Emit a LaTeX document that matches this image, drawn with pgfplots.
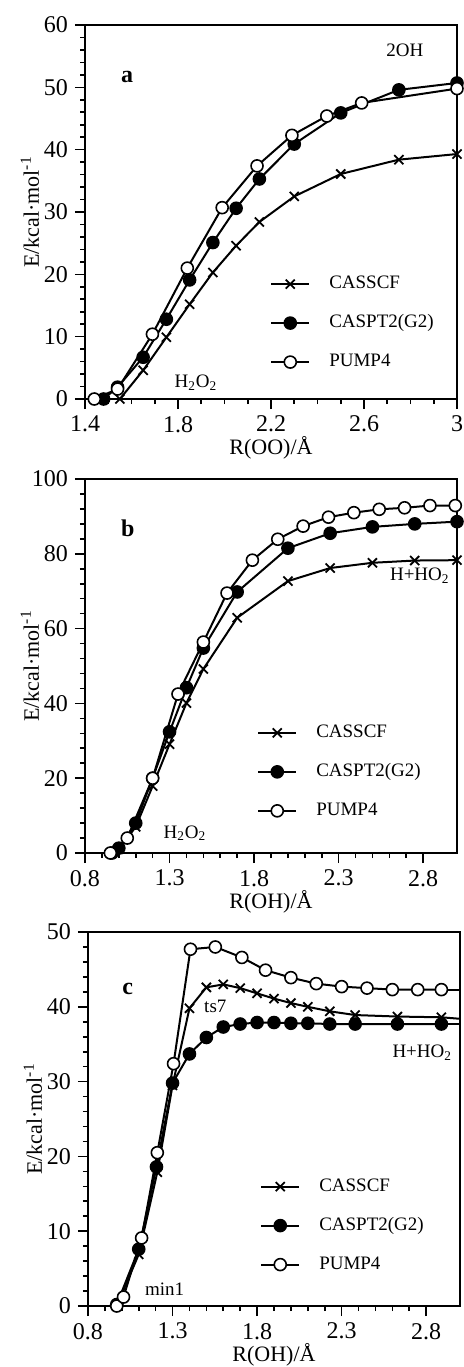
\documentclass[border=0pt]{standalone}
\usepackage{fontspec}
\setmainfont{Liberation Serif}
\usepackage{pgfplots}
\pgfplotsset{compat=1.18}

\pgfplotsset{
  panel/.style={
    scale only axis, width=186pt, height=187pt, anchor=south west, clip=false,
    axis line style={line width=1.2pt},
    tick align=outside, xtick pos=bottom, ytick pos=left,
    major tick length=5pt, minor tick length=2.5pt,
    every tick/.style={black, line width=0.8pt},
    tick label style={font=\fontsize{12}{14}\selectfont},
    label style={font=\fontsize{11}{13}\selectfont},
    /pgf/number format/assume math mode=true,
    ylabel={E/kcal·mol\textsuperscript{-1}},
    xlabel style={at={(axis description cs:0.5,-0.131)}, anchor=center},
    ylabel style={at={(axis description cs:-0.148,0.5)}, anchor=center},
    legend cell align=left,
    legend style={draw=none, fill=none, anchor=west, inner sep=0pt,
      font=\fontsize{9.5}{11}\selectfont,
      nodes={inner sep=0pt, text height=6.8pt, text depth=2.4pt},
      /tikz/row sep=10.3pt, /tikz/column sep=9.5pt},
    legend image code/.code={\draw[mark repeat=2, mark phase=2, ##1]
      plot coordinates {(0pt,0pt) (9.5pt,0pt) (19pt,0pt)};},
    every axis plot/.append style={black, line width=1pt},
  },
  cas/.style={mark=x, mark size=3.2pt, mark options={line width=0.9pt}},
  pt2/.style={mark=*, mark size=3pt, mark options={fill=black, line width=0.8pt}},
  pump/.style={mark=*, mark size=3pt, mark options={fill=white, line width=0.8pt}},
}
\tikzset{lab/.style={font=\fontsize{9.5}{11}\selectfont, anchor=base},
  plab/.style={font=\bfseries\fontsize{12}{14}\selectfont, anchor=base}}

\begin{document}
\begin{tikzpicture}
\path[use as bounding box] (0pt,0pt) rectangle (231.5pt,-683.5pt);

% ---- a ----
\begin{axis}[panel, at={(42.5pt,-199.5pt)},
  xmin=1.4, xmax=3, ymin=0, ymax=60,
  xtick={1.4,1.8,2.2,2.6,3}, minor x tick num=3,
  ytick={0,10,...,60}, minor y tick num=4,
  xlabel={R(OO)/Å},
  legend style={at={(axis description cs:0.497,0.203)}}]
\addplot[cas] coordinates {(1.55,0) (1.65,4.6) (1.75,9.9) (1.85,15.2) (1.95,20.3)
  (2.05,24.6) (2.15,28.4) (2.3,32.5) (2.5,36.1) (2.75,38.4) (3.0,39.3)};
\addlegendentry{CASSCF}
\addplot[pt2] coordinates {(1.48,0) (1.54,1.9) (1.65,6.7) (1.75,12.8) (1.85,19.1)
  (1.95,25.1) (2.05,30.6) (2.15,35.3) (2.3,40.9) (2.5,45.9) (2.75,49.6) (3.0,50.7)};
\addlegendentry{CASPT2(G2)}
\addplot[pump] coordinates {(1.44,0) (1.54,1.6) (1.69,10.4) (1.84,21.0) (1.99,30.7)
  (2.14,37.4) (2.29,42.3) (2.44,45.4) (2.59,47.5) (3.0,49.8)};
\addlegendentry{PUMP4}
\node[plab] at (axis cs:1.581,50.7) {a};
\node[lab] at (axis cs:2.776,54.9) {2OH};
\node[lab] at (axis cs:1.877,1.8) {H\textsubscript{2}O\textsubscript{2}};
\end{axis}

% ---- b ----
\begin{axis}[panel, at={(42.5pt,-426.5pt)},
  xmin=0.8, xmax=3, ymin=0, ymax=100,
  xtick={0.8,1.3,1.8,2.3,2.8}, minor x tick num=4,
  ytick={0,20,...,100}, minor y tick num=4,
  xlabel={R(OH)/Å},
  legend style={at={(axis description cs:0.462,0.217)}}]
\addplot[cas] coordinates {(0.96,0) (1.0,1.0) (1.10,7.0) (1.20,17.9) (1.30,29.1)
  (1.40,40.1) (1.50,49.2) (1.70,62.9) (2.0,72.7) (2.25,76.2) (2.5,77.6) (2.75,78.2) (3.0,78.3)};
\addlegendentry{CASSCF}
\addplot[pt2] coordinates {(0.96,0) (1.0,1.3) (1.10,8.0) (1.20,20.0) (1.30,32.4)
  (1.40,44.2) (1.50,54.8) (1.70,69.8) (2.0,81.5) (2.25,85.5) (2.5,87.2) (2.75,88.0) (3.0,88.6)};
\addlegendentry{CASPT2(G2)}
\addplot[pump] coordinates {(0.95,0) (1.05,4.0) (1.20,20.0) (1.35,42.5) (1.50,56.4)
  (1.64,69.5) (1.79,78.3) (1.94,83.9) (2.09,87.4) (2.24,89.8) (2.39,91.0) (2.54,91.9)
  (2.69,92.3) (2.84,92.9) (2.99,92.9)};
\addlegendentry{PUMP4}
\node[plab] at (axis cs:1.053,84.5) {b};
\node[lab] at (axis cs:2.78,72.8) {H+HO\textsubscript{2}};
\node[lab] at (axis cs:1.391,4.0) {H\textsubscript{2}O\textsubscript{2}};
\end{axis}

% ---- c ----
\begin{axis}[panel, at={(44pt,-653pt)},
  xmin=0.8, xmax=3, ymin=0, ymax=50,
  xtick={0.8,1.3,1.8,2.3,2.8}, minor x tick num=4,
  ytick={0,10,...,50}, minor y tick num=4,
  xlabel={R(OH)/Å},
  legend style={at={(axis description cs:0.462,0.215)}}]
\addplot[cas] coordinates {(0.97,0) (1.10,6.9) (1.21,17.9) (1.30,29.5) (1.40,39.8)
  (1.50,42.6) (1.60,43.0) (1.70,42.5) (1.80,41.8) (1.90,41.1) (2.0,40.5) (2.10,40.0)
  (2.23,39.4) (2.38,38.9) (2.63,38.7) (2.89,38.6)};
\addlegendentry{CASSCF}
\addplot[pt2] coordinates {(0.97,0.2) (1.10,7.6) (1.205,18.6) (1.30,29.8) (1.40,33.7)
  (1.50,35.9) (1.60,37.3) (1.70,37.7) (1.80,37.9) (1.90,37.9) (2.0,37.8) (2.10,37.8)
  (2.23,37.7) (2.38,37.7) (2.63,37.7) (2.89,37.7)};
\addlegendentry{CASPT2(G2)}
\addplot[pump] coordinates {(0.97,0) (1.01,1.2) (1.117,9.1) (1.21,20.5) (1.306,32.4)
  (1.406,47.7) (1.553,48.0) (1.71,46.6) (1.85,44.9) (2.0,43.9) (2.15,43.1) (2.30,42.7)
  (2.45,42.5) (2.60,42.3) (2.75,42.3) (2.89,42.3)};
\addlegendentry{PUMP4}
\addplot[no marks, forget plot] coordinates {(2.89,38.6) (3.0,38.4)};
\addplot[no marks, forget plot] coordinates {(2.89,37.7) (3.0,37.7)};
\addplot[no marks, forget plot] coordinates {(2.89,42.3) (3.0,42.3)};
\node[plab] at (axis cs:1.035,41.6) {c};
\node[lab] at (axis cs:1.553,39.2) {ts7};
\node[lab] at (axis cs:2.777,33.2) {H+HO\textsubscript{2}};
\node[lab] at (axis cs:1.253,1.47) {min1};
\end{axis}
\end{tikzpicture}
\end{document}
